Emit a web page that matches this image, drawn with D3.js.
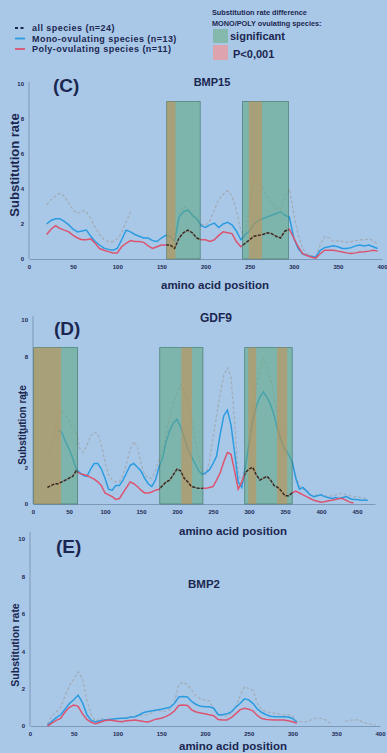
<!DOCTYPE html>
<html>
<head>
<meta charset="utf-8">
<script src="https://cdn.jsdelivr.net/npm/d3@7"></script>
<style>
  body { margin: 0; background: #a9c8e8; }
  svg { display: block; font-family: "Liberation Sans", Arial, sans-serif; }
</style>
</head>
<body>
<svg id="chart" width="387" height="753"></svg>
<script>
// ---- data (substitution rate per amino acid window) ----
const yTicks = [0, 2, 4, 6, 8, 10];

// BMP15 (C)
const bmp15Pos = [20,25,30,35,40,45,50,55,60,65,70,75,80,85,90,95,100,105,110,115,
  120,125,130,135,140,145,150,155,160,165,170,175,180,185,190,195,200,205,210,215,
  220,225,230,235,240,245,250,255,260,265,270,275,280,285,290,295,300,305,310,315,
  320,325,330,335,340,345,350,355,360,365,370,375,380,385,390,395];
const bmp15All = [3.1,3.4,3.6,3.75,3.6,3.2,2.8,2.6,2.75,2.7,2.3,1.8,1.4,1.1,1.0,1.0,1.15,1.5,2.1,2.7,
  null,null,null,null,null,null,null,null,1.7,1.3,2.6,3.0,2.85,2.6,2.3,2.0,1.9,2.2,2.8,3.4,
  3.7,3.9,3.6,2.8,1.6,1.3,3.0,4.7,4.5,4.0,3.5,3.2,2.9,2.8,3.6,4.0,2.6,1.4,0.6,0.3,
  0.2,0.15,0.8,1.3,1.2,1.0,1.05,1.0,0.95,1.0,1.05,1.1,1.1,1.15,1.05,0.85];
const bmp15Mono = [2.0,2.2,2.3,2.3,2.15,1.95,1.7,1.55,1.6,1.65,1.3,1.0,0.8,0.62,0.55,0.5,0.6,1.1,1.65,1.55,
  1.4,1.3,1.2,1.2,1.05,1.0,1.2,1.35,1.3,1.0,2.4,2.7,2.8,2.5,2.3,1.9,1.8,1.95,2.05,1.8,
  2.0,2.1,1.95,1.6,1.1,1.4,1.6,2.0,2.2,2.3,2.4,2.5,2.6,2.7,2.5,2.4,1.2,0.6,0.3,0.2,
  0.15,0.12,0.5,0.65,0.7,0.75,0.7,0.6,0.6,0.65,0.75,0.8,0.75,0.8,0.7,0.6];
const bmp15Poly = [1.4,1.7,1.9,1.75,1.65,1.55,1.35,1.2,1.1,1.1,1.15,0.9,0.6,0.5,0.42,0.35,0.35,0.7,0.9,1.05,
  1.0,1.0,0.95,0.75,0.6,0.7,0.8,0.8,0.8,0.6,1.2,1.5,1.65,1.5,1.2,1.1,1.1,1.0,1.1,1.35,
  1.55,1.5,1.45,1.0,0.7,0.9,1.1,1.3,1.35,1.4,1.5,1.45,1.3,1.2,1.6,1.7,1.2,0.7,0.3,0.2,
  0.1,0.05,0.3,0.5,0.5,0.5,0.45,0.4,0.35,0.32,0.35,0.4,0.42,0.45,0.5,0.45];
const bmp15Significant = [[156, 194], [242, 294]];
const bmp15Strong = [[156, 166], [249, 264]];
const bmp15XTicks = [0, 50, 100, 150, 200, 250, 300, 350, 400];

// GDF9 (D)
const gdf9Pos = [20,25,30,35,40,45,50,55,60,65,70,75,80,85,90,95,100,105,110,115,
  120,125,130,135,140,145,150,155,160,165,170,175,180,185,190,195,200,205,210,215,
  220,225,230,235,240,245,250,255,260,265,270,275,280,285,290,295,300,305,310,315,
  320,325,330,335,340,345,350,355,360,365,370,375,380,385,390,395,400,405,410,415,
  420,425,430,435,440,445,450,455,460,465];
const gdf9All = [2.6,3.1,3.8,4.8,5.1,4.8,4.5,4.2,3.9,3.0,
  2.8,3.2,3.7,3.9,3.8,3.2,2.3,1.6,1.3,1.2,
  1.2,1.6,2.2,3.0,3.4,3.1,2.2,1.6,1.4,1.4,
  1.8,2.4,2.8,3.8,4.8,5.5,6.0,6.5,6.2,5.5,
  4.6,3.5,2.6,1.7,1.6,2.3,3.6,4.8,6.0,7.0,
  7.4,6.9,4.5,1.6,1.2,2.2,3.0,5.0,6.3,7.3,
  7.9,7.5,6.8,5.8,4.6,3.3,2.8,2.6,2.3,1.5,
  1.0,0.8,0.75,0.5,0.45,0.5,0.5,0.45,0.4,0.45,
  0.5,0.55,0.6,0.5,0.45,0.4,0.4,0.35,0.3,0.3];
const gdf9Mono = [null,null,null,4.0,3.9,3.4,3.0,2.5,1.9,1.7,
  1.55,1.5,1.9,2.2,2.2,1.9,1.4,0.8,0.75,1.0,
  1.0,1.3,1.7,2.1,2.2,2.0,1.8,1.4,1.1,0.95,
  1.3,2.0,2.5,3.4,4.0,4.4,4.6,4.2,3.6,3.0,
  2.6,2.2,1.8,1.6,1.7,1.85,2.2,2.6,3.8,4.8,
  5.1,4.3,2.8,1.2,0.9,2.0,3.3,4.5,5.3,5.8,
  6.1,5.8,5.4,4.8,4.0,3.4,3.0,2.7,2.3,1.4,
  0.8,0.9,0.7,0.5,0.4,0.45,0.5,0.4,0.35,0.3,
  0.35,0.3,0.35,0.4,0.3,0.25,0.25,0.2,0.2,0.2];
const gdf9Poly = [0.9,1.0,1.1,1.1,1.2,1.3,1.4,1.5,1.8,1.65,
  1.6,1.55,1.45,1.35,1.2,1.0,0.6,0.5,0.4,0.25,
  0.3,0.6,0.9,1.2,1.1,0.95,0.75,0.6,0.6,0.65,
  0.75,0.8,1.0,1.2,1.3,1.6,1.9,1.8,1.4,1.2,
  0.95,0.9,0.85,0.85,0.85,0.9,0.95,1.3,1.7,2.3,
  2.8,2.7,1.8,0.8,1.2,1.7,1.9,2.0,1.6,1.3,
  1.4,1.5,1.3,1.0,0.9,0.7,0.45,0.45,0.6,0.7,
  0.6,0.5,0.4,0.3,0.2,0.15,0.1,0.12,0.18,0.2,
  0.25,0.3,0.3,0.2,0.1,0.05,null,null,null,null];
const gdf9Significant = [[1, 62], [176, 236], [294, 360]];
const gdf9Strong = [[1, 39], [206, 221], [299, 310], [339, 353]];
const gdf9XTicks = [0, 50, 100, 150, 200, 250, 300, 350, 400, 450];

// BMP2 (E)
const bmp2Pos = bmp15Pos.slice();
const bmp2All = [0.1,0.55,0.75,1.0,1.6,2.15,2.5,2.9,2.5,1.4,
  0.6,0.25,0.4,0.35,0.32,0.35,0.4,0.42,0.45,0.5,
  0.5,0.55,0.6,0.6,0.75,0.85,0.8,0.78,0.9,1.3,
  2.2,2.35,2.2,1.9,1.6,1.45,1.4,1.35,0.9,0.6,
  0.55,0.5,0.7,1.0,1.6,2.1,2.0,1.9,1.2,0.85,
  0.78,0.72,0.68,0.64,0.6,0.6,0.55,0.25,0.22,0.22,
  0.3,0.4,0.42,0.38,0.25,0.08,null,null,0.25,0.3,
  0.33,0.32,0.22,0.14,0.1,0.05];
const bmp2Mono = [0.05,0.25,0.45,0.6,0.9,1.2,1.4,1.65,1.25,0.6,
  0.3,0.22,0.28,0.32,0.35,0.38,0.4,0.42,0.42,0.48,
  0.5,0.6,0.72,0.78,0.82,0.86,0.9,0.95,1.0,1.2,
  1.55,1.58,1.55,1.3,1.15,1.05,1.03,1.03,0.95,0.6,
  0.6,0.65,0.75,1.0,1.2,1.45,1.4,1.2,0.9,0.72,
  0.6,0.52,0.5,0.5,0.5,0.48,0.4,0.2,null,null,
  null,null,null,null,null,null,null,null,null,null,
  null,null,null,null,null,null];
const bmp2Poly = [0,0.15,0.3,0.4,0.75,1.0,1.12,1.05,0.65,0.35,
  0.2,0.12,0.2,0.28,0.32,0.3,0.26,0.23,0.28,0.3,
  0.32,0.28,0.24,0.22,0.3,0.38,0.42,0.5,0.62,0.8,
  1.1,1.12,1.1,0.85,0.75,0.7,0.66,0.6,0.55,0.35,
  0.32,0.32,0.45,0.65,0.86,0.95,0.9,0.8,0.55,0.4,
  0.35,0.33,0.32,0.32,0.32,0.28,0.23,0.15,null,null,
  null,null,null,null,null,null,null,null,null,null,
  null,null,null,null,null,null];
const bmp2XTicks = [0, 50, 100, 150, 200, 250, 300, 350, 400];

const legendLabels = ['all species (n=24)', 'Mono-ovulating species (n=13)', 'Poly-ovulating species (n=11)'];

// ---- layout ----
const ink = '#1b2750';
const colAll = '#a3adb8';
const colMono = '#2b9be0';
const colPoly = '#dc5370';

const panels = [
  { pos: bmp15Pos, all: bmp15All, mono: bmp15Mono, poly: bmp15Poly,
    sig: bmp15Significant, strong: bmp15Strong, bandTop: 9, xTicks: bmp15XTicks,
    xDomain: [0, 400], xRange: [29, 382], yRange: [259, 84], yTop: 82,
    letter: '(C)', letterAt: [53, 92], title: 'BMP15', titleAt: [212, 86], titleSize: 11,
    yLabelAt: [19, 165], yLabelSize: 13, xLabelAt: [215, 289] },
  { pos: gdf9Pos, all: gdf9All, mono: gdf9Mono, poly: gdf9Poly,
    sig: gdf9Significant, strong: gdf9Strong, bandTop: 8.5, xTicks: gdf9XTicks,
    xDomain: [0, 475], xRange: [33, 375], yRange: [504, 320], yTop: 316,
    letter: '(D)', letterAt: [54, 335], title: 'GDF9', titleAt: [216, 322], titleSize: 12,
    yLabelAt: [26, 425], yLabelSize: 10, xLabelAt: [233, 535] },
  { pos: bmp2Pos, all: bmp2All, mono: bmp2Mono, poly: bmp2Poly,
    sig: [], strong: [], bandTop: 0, xTicks: bmp2XTicks,
    xDomain: [0, 400], xRange: [30, 380], yRange: [726, 539], yTop: 532,
    letter: '(E)', letterAt: [56, 553], title: 'BMP2', titleAt: [204, 588], titleSize: 11.5,
    yLabelAt: [19, 645], yLabelSize: 10.5, xLabelAt: [233, 750] },
];

const svg = d3.select('#chart');
const defs = svg.append('defs');

panels.forEach((p, i) => {
  const x = d3.scaleLinear().domain(p.xDomain).range(p.xRange);
  const y = d3.scaleLinear().domain([0, 10]).range(p.yRange);
  const g = svg.append('g');

  // axes
  const xAxis = g.append('g')
    .attr('transform', `translate(0,${y(0)})`)
    .call(d3.axisBottom(x).tickValues(p.xTicks).tickSize(0).tickPadding(6));
  const yAxis = g.append('g')
    .attr('transform', `translate(${x(0)},0)`)
    .call(d3.axisLeft(y).tickValues(yTicks).tickSize(0).tickPadding(5));
  [xAxis, yAxis].forEach(a => {
    a.select('.domain').attr('stroke', '#7893b4').attr('stroke-width', 0.9);
    a.selectAll('text').attr('fill', ink).style('font-size', '6px').style('font-weight', 'bold')
      .style('font-family', '"Liberation Sans", Arial, sans-serif');
  });
  yAxis.select('.domain').attr('d', `M0,${y(0)}V${p.yTop}`);

  // lines
  const toPts = vals => p.pos.map((pos, k) => ({ pos, v: vals[k] }));
  const line = d3.line().defined(d => d.v != null).x(d => x(d.pos)).y(d => y(d.v));

  g.append('path').datum(toPts(p.all)).attr('d', line)
    .attr('fill', 'none').attr('stroke', colAll).attr('stroke-width', 1.3).attr('stroke-dasharray', '3,2');
  g.append('path').datum(toPts(p.mono)).attr('d', line)
    .attr('fill', 'none').attr('stroke', colMono).attr('stroke-width', 1.5);
  g.append('path').datum(toPts(p.poly)).attr('d', line)
    .attr('fill', 'none').attr('stroke', colPoly).attr('stroke-width', 1.5);

  // significant regions laid over the lines
  if (p.sig.length) {
    g.selectAll('rect.sig').data(p.sig).join('rect').attr('class', 'sig')
      .attr('x', d => x(d[0])).attr('width', d => x(d[1]) - x(d[0]))
      .attr('y', y(p.bandTop)).attr('height', y(0) - y(p.bandTop))
      .attr('fill', 'rgb(96,169,134)').attr('fill-opacity', 0.6)
      .attr('stroke', 'rgb(35,95,70)').attr('stroke-opacity', 0.6).attr('stroke-width', 0.8);
    g.selectAll('rect.strong').data(p.strong).join('rect').attr('class', 'strong')
      .attr('x', d => x(d[0])).attr('width', d => x(d[1]) - x(d[0]))
      .attr('y', y(p.bandTop)).attr('height', y(0) - y(p.bandTop))
      .attr('fill', 'rgb(210,140,70)').attr('fill-opacity', 0.5);

    const clip = defs.append('clipPath').attr('id', 'sig' + i);
    clip.selectAll('rect').data(p.sig).join('rect')
      .attr('x', d => x(d[0])).attr('width', d => x(d[1]) - x(d[0]))
      .attr('y', y(p.bandTop)).attr('height', y(0) - y(p.bandTop));
    g.append('path').datum(toPts(p.poly)).attr('d', line).attr('clip-path', `url(#sig${i})`)
      .attr('fill', 'none').attr('stroke', '#2a2c26').attr('stroke-width', 1.4).attr('stroke-dasharray', '3,1.5');
  }

  // texts
  g.append('text').attr('x', p.letterAt[0]).attr('y', p.letterAt[1]).text(p.letter)
    .attr('fill', ink).style('font-size', '19px').style('font-weight', 'bold');
  g.append('text').attr('x', p.titleAt[0]).attr('y', p.titleAt[1]).text(p.title)
    .attr('text-anchor', 'middle').attr('fill', ink)
    .style('font-size', p.titleSize + 'px').style('font-weight', 'bold');
  g.append('text').attr('transform', `translate(${p.yLabelAt[0]},${p.yLabelAt[1]}) rotate(-90)`)
    .attr('text-anchor', 'middle').text('Substitution rate').attr('fill', ink)
    .style('font-size', p.yLabelSize + 'px').style('font-weight', 'bold');
  g.append('text').attr('x', p.xLabelAt[0]).attr('y', p.xLabelAt[1]).text('amino acid position')
    .attr('text-anchor', 'middle').attr('fill', ink)
    .style('font-size', '11.5px').style('font-weight', 'bold');
});

// ---- legend ----
const leg = svg.append('g');
const legStyles = [
  { color: ink, dash: '3,2.5' },
  { color: colMono, dash: null },
  { color: colPoly, dash: null },
];
legendLabels.forEach((label, k) => {
  const yy = 28 + k * 10.5;
  leg.append('line').attr('x1', 15).attr('x2', 25).attr('y1', yy).attr('y2', yy)
    .attr('stroke', legStyles[k].color).attr('stroke-width', 1.8)
    .attr('stroke-dasharray', legStyles[k].dash);
  leg.append('text').attr('x', 32).attr('y', yy + 3.3).text(label)
    .attr('fill', ink).style('font-size', '9px').style('font-weight', 'bold')
    .style('letter-spacing', '0.45px');
});

leg.append('text').attr('x', 212).attr('y', 15).text('Substitution rate difference')
  .attr('fill', ink).style('font-size', '7.3px').style('font-weight', 'bold');
leg.append('text').attr('x', 212).attr('y', 26).text('MONO/POLY ovulating species:')
  .attr('fill', ink).style('font-size', '7.3px').style('font-weight', 'bold');
leg.append('rect').attr('x', 213).attr('y', 29).attr('width', 15).attr('height', 14).attr('fill', '#86b9ae');
leg.append('text').attr('x', 230).attr('y', 40).text('significant')
  .attr('fill', ink).style('font-size', '11px').style('font-weight', 'bold');
leg.append('rect').attr('x', 213).attr('y', 45).attr('width', 15).attr('height', 15).attr('fill', '#dda4ae');
leg.append('text').attr('x', 233).attr('y', 58).text('P<0,001')
  .attr('fill', ink).style('font-size', '11px').style('font-weight', 'bold');
</script>
</body>
</html>
